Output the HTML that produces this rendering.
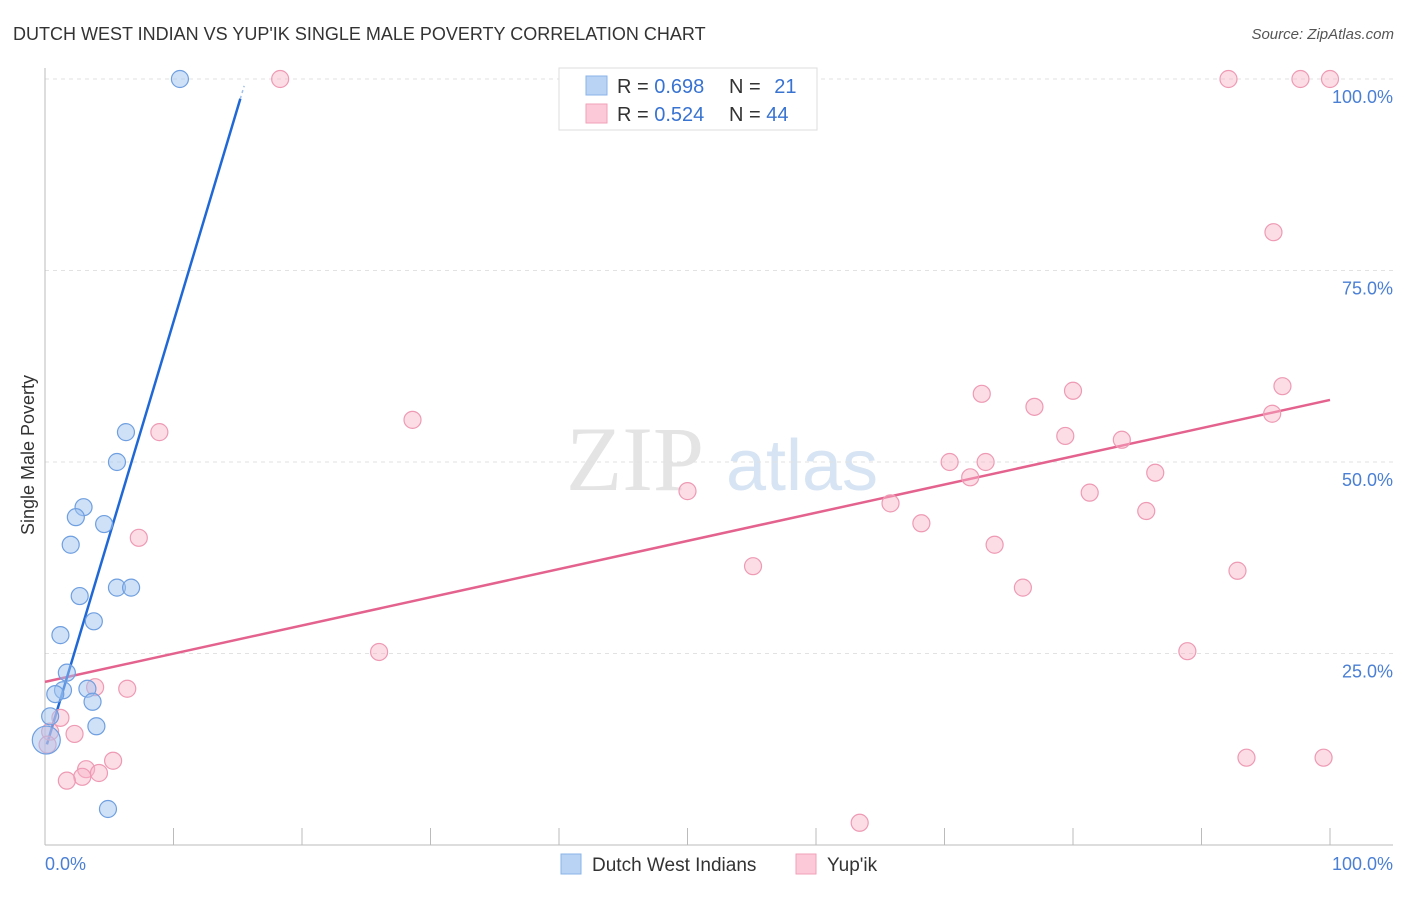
<!DOCTYPE html>
<html><head><meta charset="utf-8"><style>
body{margin:0;background:#fff;font-family:"Liberation Sans",sans-serif}
</style></head><body>
<svg width="1406" height="892" viewBox="0 0 1406 892" xmlns="http://www.w3.org/2000/svg" font-family="Liberation Sans, sans-serif">
<text x="13" y="40" font-size="18" fill="#333">DUTCH WEST INDIAN VS YUP'IK SINGLE MALE POVERTY CORRELATION CHART</text>
<text x="1394" y="39" font-size="15" fill="#555" font-style="italic" text-anchor="end">Source: ZipAtlas.com</text>
<g>
<text x="635" y="490" font-size="92" fill="#e4e4e4" font-family="Liberation Serif, serif" text-anchor="middle">ZIP</text>
<text x="802" y="490" font-size="72" fill="#d7e4f3" text-anchor="middle">atlas</text>
</g>
<g id="grid"></g>
<g id="axes"></g>
<g id="lines"></g>
<g id="points"></g>
<text x="-455" y="34" transform="rotate(-90)" font-size="18" fill="#333" text-anchor="middle">Single Male Poverty</text>
<g>
<rect x="559" y="68" width="258" height="62" fill="#fff" stroke="#ddd"/>
<rect x="586" y="76" width="21" height="19" fill="#b9d3f5" stroke="#8ab3e8"/>
<rect x="586" y="104" width="21" height="19" fill="#fcc9d8" stroke="#f2a1ba"/>
<text x="617" y="93" font-size="20" fill="#333">R = <tspan fill="#3873d1">0.698</tspan></text>
<text x="729" y="93" font-size="20" fill="#333">N = <tspan fill="#3873d1" dx="8">21</tspan></text>
<text x="617" y="121" font-size="20" fill="#333">R = <tspan fill="#3873d1">0.524</tspan></text>
<text x="729" y="121" font-size="20" fill="#333">N = <tspan fill="#3873d1">44</tspan></text>
</g>
<g>
<rect x="561" y="854" width="20" height="20" fill="#b9d3f5" stroke="#8ab3e8"/>
<text x="592" y="871" font-size="19" fill="#333">Dutch West Indians</text>
<rect x="796" y="854" width="20" height="20" fill="#fcc9d8" stroke="#f2a1ba"/>
<text x="827" y="871" font-size="19" fill="#333">Yup'ik</text>
</g>
<script>
const blueX=[10.5,6.3,5.6,3.0,2.4,2.0,4.6,2.7,3.8,5.6,6.7,1.2,1.7,1.4,0.8,3.3,3.7,4.0,0.4,0.1,4.9];
const blueY=[100,53.9,50.0,44.1,42.8,39.2,41.9,32.5,29.2,33.6,33.6,27.4,22.5,20.2,19.7,20.4,18.7,15.5,16.8,13.7,4.7];
const pinkX=[18.3,92.1,97.7,100,95.6,96.3,95.5,80.0,72.9,77.0,79.4,83.8,28.6,8.9,70.4,73.2,72.0,86.4,81.3,50.0,65.8,68.2,85.7,7.3,73.9,55.1,92.8,76.1,26.0,88.9,6.4,3.9,1.2,2.3,0.4,0.2,93.5,99.5,5.3,3.2,4.2,2.9,1.7,63.4];
const pinkY=[100,100,100,100,80.0,59.9,56.3,59.3,58.9,57.2,53.4,52.9,55.5,53.9,50.0,50.0,48.0,48.6,46.0,46.2,44.6,42.0,43.6,40.1,39.2,36.4,35.8,33.6,25.2,25.3,20.4,20.6,16.6,14.5,14.8,13.1,11.4,11.4,11.0,9.9,9.4,8.9,8.4,2.9];
const yTicks=[25,50,75,100];
const yTickLabels=["25.0%","50.0%","75.0%","100.0%"];
const blueTrend=[12.3,5.6];
const pinkTrend=[21.3,0.368];
const NS="http://www.w3.org/2000/svg";
const sx=v=>45+v*12.85, sy=v=>845-v*7.66;
function mk(tag,attrs,parent){const e=document.createElementNS(NS,tag);for(const k in attrs)e.setAttribute(k,attrs[k]);parent.appendChild(e);return e;}
const grid=document.getElementById('grid'),axes=document.getElementById('axes'),lines=document.getElementById('lines'),pts=document.getElementById('points');
yTicks.forEach((t,i)=>{
 const l=mk('line',{x1:45,x2:1393,y1:sy(t),y2:sy(t),stroke:'#e2e2e2','stroke-dasharray':'4,4'},grid);
 
 
 const tx=mk('text',{x:1393,y:sy(t)+24,'font-size':18,fill:'#4a7fd4','text-anchor':'end'},axes);
 tx.textContent=yTickLabels[i];
 
 
});
mk('line',{x1:45,x2:45,y1:68,y2:845,stroke:'#bbb'},axes);
mk('line',{x1:45,x2:1393,y1:845,y2:845,stroke:'#bbb'},axes);
for(let i=1;i<=10;i++){const t=mk('line',{x1:sx(i*10),x2:sx(i*10),y1:828,y2:845,stroke:'#bbb'},axes);}
const xl0=mk('text',{x:45,y:870,'font-size':18,fill:'#4a7fd4'},axes);xl0.textContent='0.0%';


const xl1=mk('text',{x:1393,y:870,'font-size':18,fill:'#4a7fd4','text-anchor':'end'},axes);xl1.textContent='100.0%';


function draw(xs,ys,fill,stroke,name){xs.forEach((x,i)=>{const r=(name==='blue-point'&&i===19)?14:8.5;const c=mk('circle',{cx:sx(x),cy:sy(ys[i]),r:r,fill:fill,stroke:stroke,'stroke-width':1.2},pts);});}
draw(pinkX,pinkY,'rgba(248,180,200,0.45)','#ee9ab4','pink-point');
draw(blueX,blueY,'rgba(160,195,240,0.5)','#6f9fe0','blue-point');
const pl=mk('line',{x1:sx(0),y1:sy(pinkTrend[0]),x2:sx(100),y2:sy(pinkTrend[0]+pinkTrend[1]*100),stroke:'#e4628e','stroke-width':2.5},lines);


const bx0=0.15,bx1=15.2,bx2=15.5;
const bl=mk('line',{x1:sx(bx0),y1:sy(blueTrend[0]+blueTrend[1]*bx0),x2:sx(bx1),y2:sy(blueTrend[0]+blueTrend[1]*bx1),stroke:'#1f68d6','stroke-width':2.5},lines);


const bd=mk('line',{x1:sx(bx1),y1:sy(blueTrend[0]+blueTrend[1]*bx1),x2:sx(bx2),y2:sy(blueTrend[0]+blueTrend[1]*bx2),stroke:'#9fbfea','stroke-width':1.5,'stroke-dasharray':'3,3'},lines);


</script>
</svg>
</body></html>
